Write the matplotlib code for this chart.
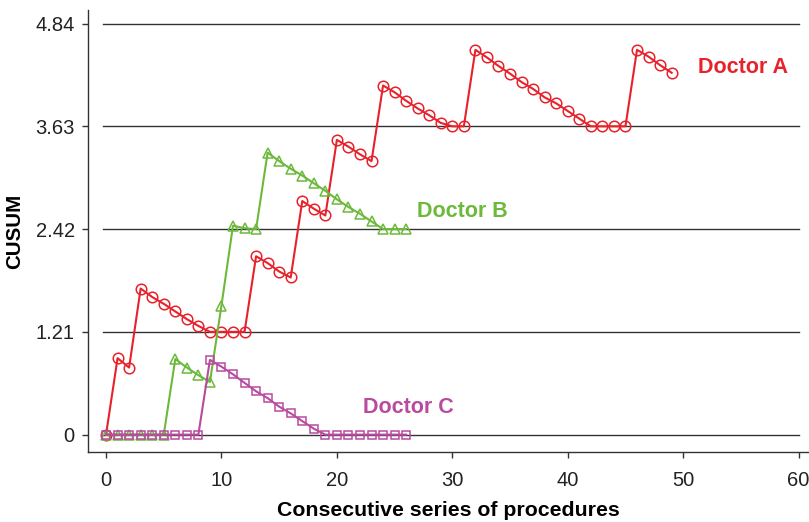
import matplotlib
matplotlib.use("Agg")
import matplotlib.pyplot as plt

plt.rcParams["font.family"] = ["Liberation Sans", "DejaVu Sans"]

# CUSUM values per consecutive procedure
doctor_a = [0.0, 0.90, 0.79, 1.72, 1.62, 1.54, 1.45, 1.36, 1.28, 1.21,
            1.21, 1.21, 1.21, 2.10, 2.02, 1.92, 1.85, 2.75, 2.66, 2.58,
            3.47, 3.39, 3.30, 3.22, 4.11, 4.03, 3.93, 3.84, 3.76, 3.67,
            3.63, 3.63, 4.53, 4.44, 4.34, 4.25, 4.15, 4.07, 3.97, 3.90,
            3.81, 3.72, 3.63, 3.63, 3.63, 3.63, 4.53, 4.45, 4.35, 4.26]
doctor_b = [0.0, 0.0, 0.0, 0.0, 0.0, 0.0, 0.89, 0.79, 0.70, 0.62,
            1.52, 2.46, 2.43, 2.42, 3.32, 3.22, 3.13, 3.05, 2.96, 2.87,
            2.77, 2.68, 2.60, 2.51, 2.42, 2.42, 2.42]
doctor_c = [0.0, 0.0, 0.0, 0.0, 0.0, 0.0, 0.0, 0.0, 0.0, 0.88,
            0.80, 0.71, 0.61, 0.51, 0.43, 0.33, 0.25, 0.16, 0.07, 0.0,
            0.0, 0.0, 0.0, 0.0, 0.0, 0.0, 0.0]

y_ticks = [0, 1.21, 2.42, 3.63, 4.84]
y_tick_labels = ["0", "1.21", "2.42", "3.63", "4.84"]
x_ticks = [0, 10, 20, 30, 40, 50, 60]

series = [
    ("Doctor A", doctor_a, "#e8222b", "o", 7.6, (51.3, 4.32)),
    ("Doctor B", doctor_b, "#6cb93b", "^", 7.6, (26.9, 2.63)),
    ("Doctor C", doctor_c, "#b84a9f", "s", 6.4, (22.3, 0.32)),
]

fig = plt.figure(figsize=(8.09, 5.22), dpi=100)
ax = fig.add_axes([0.1088, 0.134, 0.8912, 0.847])

# horizontal reference lines at the decision limits
for yv in y_ticks:
    ax.plot([-0.25, 60], [yv, yv], color="#333333", lw=1.0, zorder=1)

for name, vals, col, mk, ms, (tx, ty) in series:
    xs = list(range(len(vals)))
    ax.plot(xs, vals, color=col, lw=1.5, marker=mk, ms=ms,
            mfc="none", mec=col, mew=1.1, zorder=3)
    ax.text(tx, ty, name, color=col, fontsize=15.5, fontweight="bold",
            ha="left", va="center")

ax.set_xlim(-1.56, 60.9)
ax.set_ylim(-0.205, 5.0)
ax.set_yticks(y_ticks)
ax.set_yticklabels(y_tick_labels)
ax.set_xticks(x_ticks)
ax.tick_params(axis="both", labelsize=14.5, length=4.5, width=1.0,
               color="#333333", labelcolor="#222222")
ax.tick_params(axis="x", pad=9)
ax.tick_params(axis="y", pad=5)

for side in ("top", "right"):
    ax.spines[side].set_visible(False)
for side in ("left", "bottom"):
    ax.spines[side].set_color("#333333")
    ax.spines[side].set_linewidth(1.0)

ax.set_xlabel("Consecutive series of procedures", fontsize=15.3,
              fontweight="bold", labelpad=8)
ax.set_ylabel("CUSUM", fontsize=14.8, fontweight="bold", labelpad=8)

fig.savefig("out.png", dpi=100)
